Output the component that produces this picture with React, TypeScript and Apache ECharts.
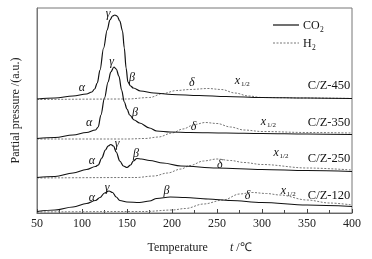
import React, { useEffect, useRef } from "react";
import * as echarts from "echarts";

const FONT = '"Liberation Serif", "Times New Roman", serif';

// Temperature (°C) vs offset partial pressure (a.u.)
const co2_450: [number, number][] = [
  [50, 114], [70, 115], [90, 117], [105, 119], [111, 121], [114, 124], [117, 130], [120, 143],
  [124, 165], [128, 183], [131, 193], [134, 197], [136.5, 198], [139, 197], [142, 192], [145, 182],
  [147, 165], [149, 145], [151, 131], [154, 127], [157, 125], [165, 122], [180, 120], [200, 118.5],
  [230, 117.5], [260, 116.5], [300, 115.5], [350, 115], [400, 114.5],
];
const h2_450: [number, number][] = [
  [50, 113.5], [150, 114], [175, 115.5], [190, 119.5], [205, 122.5], [220, 123.5], [240, 124.5],
  [255, 123.5], [270, 120], [285, 117], [300, 115.5], [350, 115], [400, 114.5],
];
const co2_350: [number, number][] = [
  [50, 74.5], [70, 75.5], [90, 78], [105, 80.5], [115, 83], [118, 86], [121, 98], [125, 115],
  [129, 131], [132, 141], [135.5, 146], [138, 144], [141, 137], [144, 123], [147, 111], [150, 104],
  [153, 98], [158, 93], [164, 90], [175, 85], [183, 82], [198, 81], [220, 80.5], [260, 80],
  [300, 79.5], [350, 79], [400, 78.5],
];
const h2_350: [number, number][] = [
  [50, 74], [150, 74], [170, 74.5], [185, 76], [200, 80], [212, 84], [225, 88.5], [237, 90.5],
  [250, 89.5], [265, 86], [280, 83], [300, 81.5], [350, 80.5], [400, 80],
];
const co2_250: [number, number][] = [
  [50, 35.5], [70, 36.5], [90, 40], [105, 43.5], [115, 46.5], [118, 48], [122, 55], [126, 63],
  [129, 67], [132, 68.5], [135, 67], [138, 61], [142, 52], [146, 47], [150, 45.5], [154, 48],
  [157, 52], [161, 54.5], [166, 54], [175, 52.5], [190, 50], [210, 47], [250, 45], [300, 43.5],
  [350, 42.5], [400, 41.5],
];
const h2_250: [number, number][] = [
  [50, 35], [160, 35.5], [180, 37], [195, 40], [210, 44], [220, 47.5], [235, 52], [250, 54],
  [265, 52.5], [280, 50.5], [300, 48.5], [350, 45], [400, 43],
];
const co2_120: [number, number][] = [
  [50, 1.5], [70, 3], [90, 6], [105, 9.5], [115, 12.5], [120, 15.5], [125, 20], [130, 22],
  [134, 20.5], [138, 16], [142, 12.5], [150, 11], [164, 10.5], [175, 12], [183, 14.5], [198, 16],
  [215, 15.5], [240, 14], [265, 12.5], [300, 10.5], [350, 8], [400, 6.5],
];
const h2_120: [number, number][] = [
  [50, 1], [170, 1.5], [200, 3], [215, 4.5], [235, 9], [257, 13], [275, 19], [289, 20.5],
  [305, 19.5], [320, 18], [350, 13], [375, 10], [400, 8],
];

const xTicks = { min: 50, max: 400, interval: 50 };

// peak labels: [T, value, text]
const greekLabels: [number, number, string][] = [
  [100, 126, "α"], [129, 200, "γ"], [155.5, 136, "β"], [222, 131, "δ"],
  [108, 91, "α"], [133, 152, "γ"], [159, 101, "β"], [224, 87, "δ"],
  [111, 53, "α"], [139, 70, "γ"], [160, 60, "β"], [253, 49, "δ"],
  [111, 16, "α"], [128, 26, "γ"], [194, 23, "β"], [284, 18, "δ"],
];
const halfLabels: [number, number][] = [
  [276, 133], [305, 92], [319, 61], [327, 23],
];
const sampleLabels: [number, number, string][] = [
  [398, 128, "C/Z-450"], [398, 91, "C/Z-350"], [398, 55, "C/Z-250"], [398, 18, "C/Z-120"],
];

const traces = [
  { gas: "CO2", data: co2_450 }, { gas: "H2", data: h2_450 },
  { gas: "CO2", data: co2_350 }, { gas: "H2", data: h2_350 },
  { gas: "CO2", data: co2_250 }, { gas: "H2", data: h2_250 },
  { gas: "CO2", data: co2_120 }, { gas: "H2", data: h2_120 },
];

const CO2_STYLE = { color: "#111", width: 1.2, type: "solid" };
const H2_STYLE = { color: "#777", width: 1, type: [2, 1.5] };

export default function App() {
  const ref = useRef<HTMLDivElement>(null);
  useEffect(() => {
    const chart = echarts.init(ref.current!, null, { renderer: "svg" });
    const series = traces.map((tr) => ({
      type: "line",
      name: tr.gas,
      data: tr.data,
      symbol: "none",
      showSymbol: false,
      smooth: 0.35,
      smoothMonotone: "x",
      lineStyle: tr.gas === "CO2" ? CO2_STYLE : H2_STYLE,
      z: tr.gas === "CO2" ? 3 : 2,
    }));
    chart.setOption({
      animation: false,
      textStyle: { fontFamily: FONT },
      grid: { left: 37, right: 20, top: 8, bottom: 46, show: true, borderColor: "#777", borderWidth: 1 },
      xAxis: {
        type: "value",
        min: xTicks.min,
        max: xTicks.max,
        interval: xTicks.interval,
        axisLine: { show: true, lineStyle: { color: "#666", width: 1 } },
        axisTick: { show: true, inside: true, length: 4, lineStyle: { color: "#444" } },
        minorTick: { show: true, splitNumber: 2, length: 3, lineStyle: { color: "#444" } },
        splitLine: { show: false },
        axisLabel: { fontFamily: FONT, fontSize: 12, color: "#222", margin: 4 },
        name: "{a|Temperature}{g|}{b|t}{a| /℃}",
        nameLocation: "middle",
        nameGap: 28,
        nameTextStyle: {
          padding: [0, 0, 0, 10],
          rich: {
            a: { fontFamily: FONT, fontSize: 12, color: "#222" },
            b: { fontFamily: FONT, fontSize: 12, color: "#222", fontStyle: "italic" },
            g: { width: 22 },
          },
        },
      },
      yAxis: {
        type: "value",
        min: 0,
        max: 205,
        axisLine: { show: true, lineStyle: { color: "#777" } },
        axisTick: { show: false },
        axisLabel: { show: false },
        splitLine: { show: false },
        name: "Partial pressure /(a.u.)",
        nameLocation: "middle",
        nameGap: 16,
        nameTextStyle: { fontFamily: FONT, fontSize: 12, color: "#222" },
      },
      series,
    });

    const g: any[] = [];
    const txt = (x: number, y: number, text: string, size: number, italic: boolean, align = "center") => ({
      type: "text",
      x,
      y,
      silent: true,
      style: {
        text,
        fill: "#111",
        fontFamily: FONT,
        fontSize: size,
        fontStyle: italic ? "italic" : "normal",
        align,
        verticalAlign: "middle",
      },
    });
    for (const [t, v, s] of greekLabels) {
      const [px, py] = chart.convertToPixel({ gridIndex: 0 }, [t, v]);
      g.push(txt(px, py, s, 12, true));
    }
    for (const [t, v] of halfLabels) {
      const [px, py] = chart.convertToPixel({ gridIndex: 0 }, [t, v]);
      g.push(txt(px - 3, py, "x", 12, true));
      g.push(txt(px + 0.5, py + 4, "1/2", 7, false, "left"));
    }
    for (const [t, v, s] of sampleLabels) {
      const [px, py] = chart.convertToPixel({ gridIndex: 0 }, [t, v]);
      g.push(txt(px, py, s, 12.5, false, "right"));
    }
    // legend
    g.push({ type: "line", shape: { x1: 273, y1: 25, x2: 299, y2: 25 }, style: { stroke: "#111", lineWidth: 1.2 } });
    g.push(txt(303, 25, "CO", 12, false, "left"));
    g.push(txt(320, 29, "2", 7.5, false, "left"));
    g.push({ type: "line", shape: { x1: 273, y1: 43, x2: 299, y2: 43 }, style: { stroke: "#777", lineWidth: 1, lineDash: [2, 1.5] } });
    g.push(txt(303, 43, "H", 12, false, "left"));
    g.push(txt(312, 47, "2", 7.5, false, "left"));
    chart.setOption({ graphic: g });
    return () => chart.dispose();
  }, []);
  return <div ref={ref} style={{ position: "fixed", left: 0, top: 0, width: 372, height: 259 }} />;
}
